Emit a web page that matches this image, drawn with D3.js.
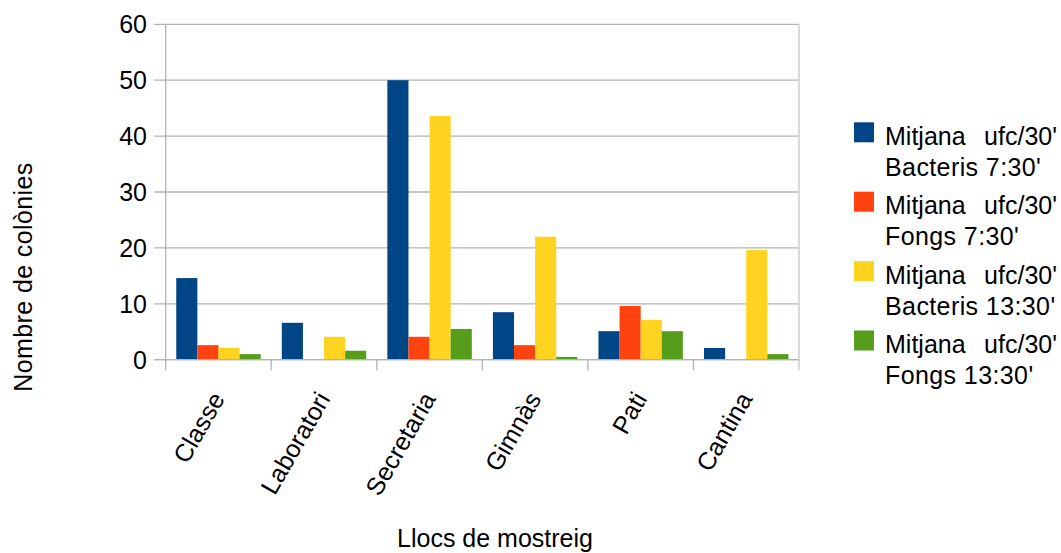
<!DOCTYPE html>
<html>
<head>
<meta charset="utf-8">
<script src="https://cdn.jsdelivr.net/npm/d3@7"></script>
<style>
  html, body { margin: 0; padding: 0; background: #fff; }
  svg { display: block; font-family: "Liberation Sans", Arial, sans-serif; }
</style>
</head>
<body>
<svg id="chart" width="1061" height="553"></svg>
<script>
// Sampling sites
const categories = ["Classe", "Laboratori", "Secretaria", "Gimnàs", "Pati", "Cantina"];

// Mean colony counts (ufc/30') per site
const bacteris730  = [14.6, 6.6, 50.0, 8.5, 5.1, 2.1];
const fongs730     = [2.6, 0, 4.1, 2.6, 9.6, 0];
const bacteris1330 = [2.1, 4.1, 43.6, 22.0, 7.1, 19.6];
const fongs1330    = [1.0, 1.6, 5.5, 0.5, 5.1, 1.0];

const seriesNames = [
  ["Mitjana", "ufc/30'", "Bacteris 7:30'"],
  ["Mitjana", "ufc/30'", "Fongs 7:30'"],
  ["Mitjana", "ufc/30'", "Bacteris 13:30'"],
  ["Mitjana", "ufc/30'", "Fongs 13:30'"]
];
const seriesValues = [bacteris730, fongs730, bacteris1330, fongs1330];
const colors = ["#004586", "#ff420e", "#ffd320", "#579d1c"];
const yTicks = [0, 10, 20, 30, 40, 50, 60];

const svg = d3.select("#chart");
const plot = { left: 165.7, right: 799, top: 24.3, bottom: 359.7 };

const x = d3.scaleBand().domain(categories).range([plot.left, plot.right]).padding(0);
const bw = x.bandwidth();
const xs = d3.scaleBand().domain(d3.range(seriesValues.length)).range([bw * 0.1, bw * 0.9]).padding(0);
const y = d3.scaleLinear().domain([0, 60]).range([plot.bottom, plot.top]);

const gridColor = "#b3b3b3";

// Horizontal gridlines with tick stubs to the left of the axis
svg.append("g").selectAll("line").data(yTicks).join("line")
  .attr("x1", plot.left - 11.7).attr("x2", plot.right)
  .attr("y1", d => y(d)).attr("y2", d => y(d))
  .attr("stroke", gridColor).attr("stroke-width", 1.3);

// Vertical axis line and right border
svg.append("line")
  .attr("x1", plot.left).attr("x2", plot.left)
  .attr("y1", plot.top).attr("y2", plot.bottom + 10.5)
  .attr("stroke", gridColor).attr("stroke-width", 1.3);
svg.append("line")
  .attr("x1", plot.right).attr("x2", plot.right)
  .attr("y1", plot.top).attr("y2", plot.bottom + 10.5)
  .attr("stroke", "#d0d0d0").attr("stroke-width", 1.6);

// Category boundary ticks below the x axis
svg.append("g").selectAll("line").data(categories.slice(1)).join("line")
  .attr("x1", d => x(d)).attr("x2", d => x(d))
  .attr("y1", plot.bottom).attr("y2", plot.bottom + 10.5)
  .attr("stroke", gridColor).attr("stroke-width", 1.3);

// Bars
const groups = svg.append("g").selectAll("g").data(categories).join("g")
  .attr("transform", d => `translate(${x(d)},0)`);
groups.selectAll("rect")
  .data((c, i) => seriesValues.map((vals, s) => ({ s, v: vals[i] })))
  .join("rect")
  .attr("x", d => xs(d.s))
  .attr("width", xs.bandwidth())
  .attr("y", d => y(d.v))
  .attr("height", d => y(0) - y(d.v))
  .attr("fill", d => colors[d.s]);

// Axis baseline drawn over bars
svg.append("line")
  .attr("x1", plot.left - 11.7).attr("x2", plot.right)
  .attr("y1", y(0)).attr("y2", y(0))
  .attr("stroke", gridColor).attr("stroke-width", 1.3);

// Y tick labels
svg.append("g").selectAll("text").data(yTicks).join("text")
  .attr("x", 147).attr("y", d => y(d)).attr("dy", "0.36em")
  .attr("text-anchor", "end").attr("font-size", 25).attr("fill", "#000")
  .text(d => d);

// X tick labels, rotated
svg.append("g").selectAll("text").data(categories).join("text")
  .attr("transform", d => `translate(${x(d) + bw / 2 + 7},${plot.bottom + 39}) rotate(-60)`)
  .attr("text-anchor", "end").attr("font-size", 25).attr("fill", "#000")
  .text(d => d);

// Axis titles
svg.append("text")
  .attr("transform", "translate(32,277) rotate(-90)")
  .attr("text-anchor", "middle").attr("font-size", 25).attr("letter-spacing", 0.4).attr("fill", "#000")
  .text("Nombre de colònies");
svg.append("text")
  .attr("x", 495).attr("y", 547)
  .attr("text-anchor", "middle").attr("font-size", 25).attr("fill", "#000")
  .text("Llocs de mostreig");

// Legend
const legend = svg.append("g").selectAll("g").data(seriesNames).join("g")
  .attr("transform", (d, i) => `translate(854,${122.3 + i * 69.4})`);
legend.append("rect")
  .attr("width", 20).attr("height", 20)
  .attr("fill", (d, i) => colors[i]);
legend.append("text")
  .attr("x", 31).attr("y", 22.7).attr("font-size", 25).attr("fill", "#000")
  .text(d => d[0]);
legend.append("text")
  .attr("x", 203).attr("y", 22.7).attr("text-anchor", "end").attr("font-size", 25).attr("fill", "#000")
  .text(d => d[1]);
legend.append("text")
  .attr("x", 31).attr("y", 53.5).attr("font-size", 25).attr("letter-spacing", 0.4).attr("fill", "#000")
  .text(d => d[2]);
</script>
</body>
</html>
